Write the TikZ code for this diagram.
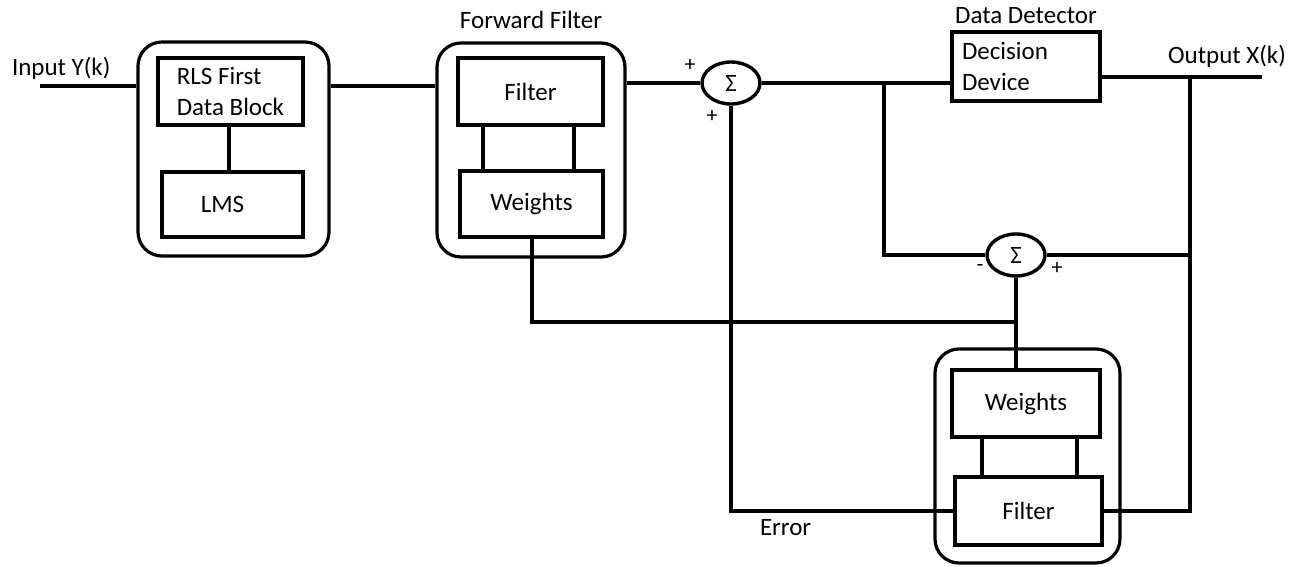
\documentclass[tikz,border=0pt]{standalone}
\usepackage{fontspec}
\setmainfont{Carlito}
\usetikzlibrary{positioning, shapes.geometric}

\begin{document}
\begin{tikzpicture}[x=0.5pt, y=-0.5pt, line width=2pt,
    font=\fontsize{12.5}{15.5}\selectfont,
    blk/.style 2 args={draw, rectangle, line width=2pt, minimum width=#1, minimum height=#2, inner sep=2pt},
    grp/.style 2 args={draw, rectangle, rounded corners=12pt, line width=1.6pt, minimum width=#1, minimum height=#2},
    summer/.style={draw, ellipse, line width=1.7pt, minimum width=29pt, minimum height=21pt, inner sep=0pt},
    sgn/.style={font=\fontsize{11}{12}\selectfont}]
    \useasboundingbox (0,0) rectangle (1311,567);

    % Input stage
    \node[blk={72.5pt}{33.5pt}, align=left] (rls) at (230.5,91.5) {RLS First\\Data Block};
    \node[blk={70.5pt}{32.5pt}] (lms) at (232.5,204.5) {\hspace*{-10pt}LMS};
    \node[grp={95.5pt}{107pt}] (grpA) at (233.5,149) {};
    \draw ([xshift=-1pt]rls.south) -- ([xshift=-2pt]lms.north);

    % Forward filter
    \node[blk={72.5pt}{33.5pt}] (ffilt) at (530.5,91.5) {Filter};
    \node[blk={71.5pt}{33pt}] (fwts) at (531.5,204) {Weights};
    \node[grp={94pt}{107pt}] (grpB) at (531,150) {};
    \node[anchor=south] at (grpB.north) [yshift=2pt] {Forward Filter};
    \draw ([xshift=-23.75pt]ffilt.south) -- ([xshift=-24.25pt]fwts.north);
    \draw ([xshift=21.75pt]ffilt.south) -- ([xshift=21.25pt]fwts.north);

    % Summing junctions
    \node[summer] (sumA) at (731,83) {Σ};
    \node[sgn] at (690,65) {+};
    \node[sgn] at (712,116) {+};
    \node[summer] (sumB) at (1016,255) {Σ};
    \node[sgn] at (980,268) {-};
    \node[sgn] at (1057,268) {+};

    % Data detector
    \node[blk={74pt}{33.5pt}, text width=64pt, inner sep=5pt, align=left] (dec) at (1026,66.5) {Decision\\Device};
    \node[anchor=south] at (dec.north) [yshift=-1pt] {Data Detector};

    % Feedback filter
    \node[blk={74pt}{33.5pt}] (bwts) at (1026,403.5) {Weights};
    \node[blk={73.5pt}{34pt}] (bfilt) at (1028.5,511) {Filter};
    \node[grp={92.5pt}{107pt}] (grpC) at (1027.5,456) {};
    \draw ([xshift=-22pt]bwts.south) -- ([xshift=-23.25pt]bfilt.north);
    \draw ([xshift=25.5pt]bwts.south) -- ([xshift=24.25pt]bfilt.north);

    % Signal lines
    \coordinate (in) at (40,86);
    \coordinate (out) at (1262,77);
    \coordinate (tap) at (1190,77);
    \coordinate (split) at (884,83);
    \coordinate (meet) at (1016,322);
    \node[anchor=south west, inner sep=0pt] at (10,82) {Input Y(k)};
    \node[anchor=south, inner sep=0pt] at (1227,70) {Output X(k)};
    \draw (in) -- (in -| grpA.west);
    \draw (grpA.east |- in) -- (grpB.west |- in);
    \draw (grpB.east |- sumA) -- (sumA.west);
    \draw (sumA.east) -- (sumA.east -| dec.west);
    \draw (dec.east |- out) -- (out);
    \draw (tap) |- (bfilt.east);
    \draw (split) |- (sumB.west);
    \draw (sumB.east) -- (sumB.east -| tap);
    \draw (sumB.south) -- (meet) -- (meet |- bwts.north);
    \draw (fwts.south) |- (meet);
    \draw (sumA.south) |- (bfilt.west);
    \node[anchor=north west, inner sep=0pt] at (758,517) {Error};
\end{tikzpicture}
\end{document}
